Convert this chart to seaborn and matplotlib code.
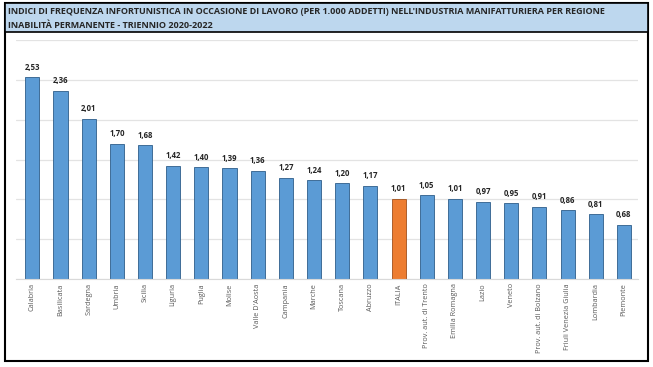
import numpy as np
import pandas as pd
import matplotlib
matplotlib.use('Agg')
import matplotlib.pyplot as plt
from matplotlib.patches import Rectangle
import seaborn as sns

# Data
regions = ['Calabria', 'Basilicata', 'Sardegna', 'Umbria', 'Sicilia', 'Liguria', 'Puglia', 'Molise',
           "Valle D'Aosta", 'Campania', 'Marche', 'Toscana', 'Abruzzo', 'ITALIA',
           'Prov. aut. di Trento', 'Emilia Romagna', 'Lazio', 'Veneto', 'Prov. aut. di Bolzano',
           'Friuli Venezia Giulia', 'Lombardia', 'Piemonte']
values = [2.53, 2.36, 2.01, 1.70, 1.68, 1.42, 1.40, 1.39, 1.36, 1.27, 1.24, 1.20, 1.17, 1.01,
          1.05, 1.01, 0.97, 0.95, 0.91, 0.86, 0.81, 0.68]
title_lines = ["INDICI DI FREQUENZA INFORTUNISTICA IN OCCASIONE DI LAVORO (PER 1.000 ADDETTI) NELL'INDUSTRIA MANIFATTURIERA PER REGIONE",
               "INABILITÀ PERMANENTE - TRIENNIO 2020-2022"]

df = pd.DataFrame({'regione': regions, 'indice': values})
palette = {r: ('#ED7D31' if r == 'ITALIA' else '#5B9BD5') for r in regions}

sns.set_style('white')
plt.rcParams['font.family'] = ['Open Sans', 'DejaVu Sans']

W, H = 653, 367
fig = plt.figure(figsize=(W / 100, H / 100), dpi=100)

# outer frame and title band
fig.patches.append(Rectangle((5 / W, 1 - 361 / H), 643 / W, 358 / H, transform=fig.transFigure,
                             fill=False, edgecolor='black', linewidth=1.5))
fig.patches.append(Rectangle((5 / W, 1 - 32 / H), 643 / W, 29 / H, transform=fig.transFigure,
                             facecolor='#BDD7EE', edgecolor='black', linewidth=1.2))
fig.text(8 / W, 1 - 12 / H, title_lines[0], fontsize=6.45, fontweight='bold', va='center', ha='left')
fig.text(8 / W, 1 - 25 / H, title_lines[1], fontsize=6.45, fontweight='bold', va='center', ha='left')

ax = fig.add_axes([16 / W, 1 - 279 / H, 622 / W, 239 / H])
sns.barplot(data=df, x='regione', y='indice', hue='regione', palette=palette, legend=False,
            width=0.5, edgecolor='#2E5E8A', linewidth=0.6, saturation=1, ax=ax)
for p, r in zip(ax.patches, regions):
    if r == 'ITALIA':
        p.set_edgecolor('#A0501C')

for i, v in enumerate(values):
    ax.annotate(f'{v:.2f}'.replace('.', ','), (i, v), xytext=(0, 4), textcoords='offset points',
                ha='center', va='bottom', fontsize=5.6, fontweight='bold', color='#262626')

ax.set_ylim(0, 3.0)
ax.set_xlim(-0.58, 21.5)
ax.set_yticks(np.arange(0, 3.01, 0.5))
ax.set_yticklabels([])
ax.tick_params(axis='y', length=0)
ax.yaxis.grid(True, color='#E3E3E3', linewidth=0.9)
ax.set_axisbelow(True)
ax.set_xlabel('')
ax.set_ylabel('')
ax.set_xticks(range(len(regions)))
ax.set_xticklabels(regions, rotation=90, fontsize=5.2, color='#595959')
ax.tick_params(axis='x', length=0, pad=3)
for s in ['top', 'right', 'left']:
    ax.spines[s].set_visible(False)
ax.spines['bottom'].set_color('#D9D9D9')

fig.savefig('out.png', dpi=100)
